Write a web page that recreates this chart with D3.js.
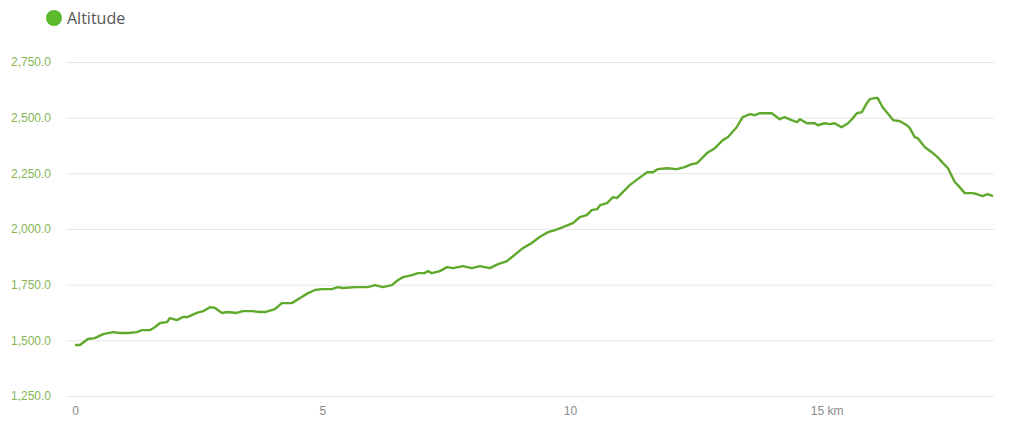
<!DOCTYPE html>
<html>
<head>
<meta charset="utf-8">
<script src="https://cdn.jsdelivr.net/npm/d3@7"></script>
<style>
  body { margin: 0; background: #fff; }
  svg { display: block; font-family: "Open Sans", sans-serif; }
  .yaxis text { fill: #86b556; font-size: 12px; }
  .yaxis line { stroke: #e6e6e6; }
  .xaxis text { fill: #8a8a8a; font-size: 12px; }
</style>
</head>
<body>
<svg width="1024" height="427"></svg>
<script>
var svg = d3.select('svg');
var width = +svg.attr('width');
var height = +svg.attr('height');

// distance along the track, km
var distKm = [0, 0.10, 0.26, 0.40, 0.57, 0.77, 0.91, 1.07, 1.25, 1.35, 1.52, 1.62, 1.72, 1.86, 1.92,
  2.06, 2.18, 2.28, 2.46, 2.59, 2.73, 2.83, 2.97, 3.07, 3.27, 3.39, 3.58, 3.74, 3.84, 4.04,
  4.18, 4.38, 4.55, 4.71, 4.85, 4.99, 5.19, 5.31, 5.41, 5.66, 5.92, 6.06, 6.22, 6.40, 6.53,
  6.63, 6.81, 6.93, 7.07, 7.13, 7.21, 7.37, 7.52, 7.64, 7.84, 8.02, 8.18, 8.38, 8.55, 8.73,
  8.83, 9.05, 9.23, 9.39, 9.56, 9.70, 9.86, 10.06, 10.20, 10.34, 10.44, 10.55, 10.61, 10.75, 10.87,
  10.95, 11.07, 11.21, 11.37, 11.56, 11.68, 11.78, 11.96, 12.16, 12.32, 12.46, 12.57, 12.77, 12.93, 13.09,
  13.19, 13.37, 13.49, 13.64, 13.74, 13.84, 14.08, 14.24, 14.34, 14.48, 14.59, 14.65, 14.79, 14.95, 15.01,
  15.15, 15.25, 15.35, 15.49, 15.62, 15.72, 15.80, 15.90, 16.00, 16.06, 16.16, 16.22, 16.32, 16.42, 16.53,
  16.67, 16.81, 16.87, 16.97, 17.03, 17.17, 17.31, 17.43, 17.54, 17.64, 17.78, 17.84, 17.98, 18.08, 18.14,
  18.22, 18.34, 18.44, 18.55];

// altitude, m
var altitude = [1479, 1479, 1506, 1510, 1528, 1537, 1533, 1533, 1537, 1546, 1546, 1560, 1578, 1582, 1600,
  1591, 1605, 1605, 1623, 1631, 1649, 1645, 1623, 1627, 1623, 1631, 1631, 1627, 1627, 1640,
  1667, 1667, 1690, 1712, 1726, 1730, 1730, 1739, 1735, 1739, 1739, 1748, 1739, 1748, 1771,
  1784, 1793, 1802, 1802, 1811, 1802, 1811, 1829, 1824, 1833, 1824, 1833, 1824, 1842, 1856,
  1874, 1914, 1937, 1964, 1986, 1995, 2008, 2026, 2053, 2062, 2085, 2089, 2107, 2116, 2143,
  2139, 2166, 2197, 2224, 2255, 2255, 2269, 2273, 2269, 2278, 2291, 2296, 2341, 2363, 2399,
  2412, 2457, 2502, 2516, 2511, 2520, 2520, 2493, 2502, 2489, 2480, 2493, 2475, 2475, 2466,
  2475, 2471, 2475, 2457, 2475, 2498, 2520, 2525, 2565, 2583, 2588, 2588, 2547, 2520, 2489,
  2484, 2466, 2453, 2412, 2408, 2368, 2345, 2323, 2296, 2273, 2210, 2197, 2161, 2161, 2161,
  2157, 2148, 2157, 2148];

var yTicks = [1250, 1500, 1750, 2000, 2250, 2500, 2750];
var xTicks = [0, 5, 10, 15];
var seriesName = 'Altitude';

var lineColor = '#5fa92c';

var xScale = d3.scaleLinear()
  .domain([0, 18.57])
  .range([75, 994]);

var yScale = d3.scaleLinear()
  .domain([1250, 2750])
  .range([396, 62]);

// y axis + gridlines
var yAxis = svg.append('g')
  .attr('class', 'yaxis')
  .attr('transform', 'translate(994,0)')
  .call(d3.axisLeft(yScale).tickValues(yTicks).tickSize(928).tickPadding(15)
    .tickFormat(d3.format(',.1f')));
yAxis.select('.domain').remove();

// x axis
var xAxis = svg.append('g')
  .attr('class', 'xaxis')
  .attr('transform', 'translate(0,396)')
  .call(d3.axisBottom(xScale).tickValues(xTicks).tickSize(0).tickPadding(10));
xAxis.select('.domain').remove();
xAxis.selectAll('.tick text')
  .filter(function(d) { return d === 15; })
  .attr('text-anchor', 'start')
  .attr('x', -7)
  .text('15 km');

var rows = distKm.map(function(d, i) { return {km: d, alt: altitude[i]}; });

var line = d3.line()
  .x(function(d) { return xScale(d.km); })
  .y(function(d) { return yScale(d.alt); });

svg.append('path')
  .datum(rows)
  .attr('fill', 'none')
  .attr('stroke', lineColor)
  .attr('stroke-width', 2.4)
  .attr('stroke-linejoin', 'round')
  .attr('d', line);

// legend
var legend = svg.append('g').attr('transform', 'translate(54,18)');
legend.append('circle').attr('r', 8).attr('fill', '#5cb82c');
legend.append('text')
  .attr('x', 13)
  .attr('dy', '0.35em')
  .attr('fill', '#555')
  .style('font-size', '16px')
  .text(seriesName);
</script>
</body>
</html>
